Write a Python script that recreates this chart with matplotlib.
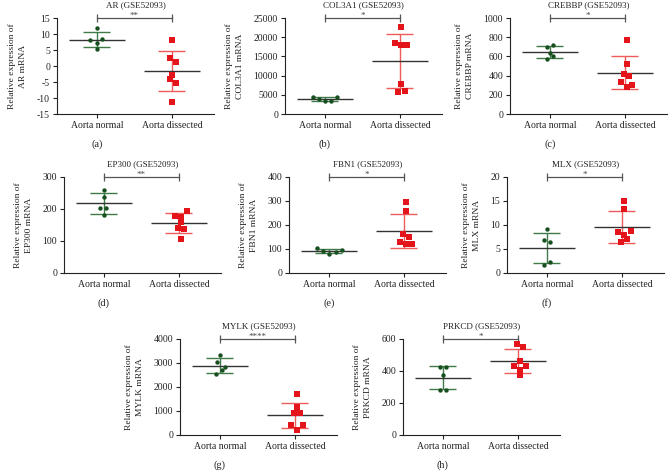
import numpy as np
import matplotlib
matplotlib.use("Agg")
import matplotlib.pyplot as plt
import matplotlib.transforms as mtransforms

plt.rcParams['font.family'] = ['Liberation Serif', 'DejaVu Serif']
plt.rcParams['axes.unicode_minus'] = False

groups = ["Aorta normal", "Aorta dissected"]
genes = ["AR", "COL3A1", "CREBBP", "EP300", "FBN1", "MLX", "MYLK", "PRKCD"]
stars = ["**", "*", "*", "**", "*", "*", "****", "*"]
panel_tags = ["(a)", "(b)", "(c)", "(d)", "(e)", "(f)", "(g)", "(h)"]
ylims = [(-15, 15), (0, 25000), (0, 1000), (0, 300), (0, 400), (0, 20), (0, 4000), (0, 600)]
ysteps = [5, 5000, 200, 100, 100, 5, 1000, 200]

# expression values
normal = [
    [12.0, 8.0, 7.3, 8.5, 5.4],
    [4300, 3950, 3260, 3350, 4300],
    [697, 714, 634, 603, 569],
    [260, 239, 204, 204, 180],
    [103, 91, 81, 89, 95],
    [9.07, 6.85, 6.37, 2.28, 1.73],
    [3322, 3045, 2851, 2699, 2533],
    [423, 426, 372, 282, 282],
]
dissected = [
    [8.2, 2.6, 1.1, -2.9, -4.0, -5.2, -11.3],
    [22700, 18500, 18000, 18000, 7700, 5750, 5900],
    [776, 521, 414, 393, 334, 307, 279],
    [179, 194, 176, 158, 142, 136, 106],
    [294, 257, 162, 151, 131, 120, 120],
    [14.95, 13.4, 8.6, 8.8, 8.0, 7.1, 6.4],
    [1716, 1163, 913, 913, 415, 415, 194],
    [571, 550, 465, 430, 432, 407, 374],
]

# horizontal scatter of the dots (layout only)
jit_n = [
    [0, -0.09, 0, 0.075, 0],
    [-0.155, -0.075, 0, 0.08, 0.165],
    [-0.04, 0.04, 0, 0.04, -0.04],
    [0, 0, -0.045, 0.035, 0],
    [-0.155, -0.075, 0, 0.09, 0.17],
    [0, -0.04, 0.045, 0.045, -0.04],
    [0, -0.04, 0.075, 0.035, -0.05],
    [-0.04, 0.04, 0, -0.04, 0.04],
]
jit_d = [
    [0, -0.03, 0.05, 0, -0.03, 0.05, 0],
    [0.02, -0.06, 0.02, 0.1, 0.02, -0.02, 0.07],
    [0.027, 0.027, -0.013, 0.058, -0.058, 0.1, 0.027],
    [-0.053, 0.11, 0.03, 0.03, -0.013, 0.07, 0.03],
    [0.03, 0.03, -0.01, 0.07, -0.05, 0.03, 0.11],
    [0.03, 0.03, -0.053, 0.115, 0.03, 0.07, -0.013],
    [0.027, 0.027, -0.013, 0.067, -0.058, 0.107, 0.027],
    [-0.013, 0.07, 0.027, -0.053, 0.11, 0.027, 0.027],
]

W, H = 670, 472
fig = plt.figure(figsize=(W / 100, H / 100), dpi=100)

# left spine x, axes top y (pixels)
spots = [(57, 18), (285, 18), (510, 18),
         (64, 177), (289, 177), (507, 177),
         (180, 339), (403, 339)]
aw, ah = 157, 96

pt_col = ["#17501f", "#e3151b"]
sd_col = ["#3f7a48", "#ef5a5a"]
markers = ["o", "s"]
msize = [10, 13]

for i, g in enumerate(genes):
    x0, y0 = spots[i]
    ax = fig.add_axes([x0 / W, 1 - (y0 + ah) / H, aw / W, ah / H])
    vals = [np.array(normal[i]), np.array(dissected[i])]
    jits = [jit_n[i], jit_d[i]]
    for k in range(2):
        v = vals[k]
        m, s = v.mean(), v.std(ddof=1)
        ax.vlines(k, m - s, m + s, color=sd_col[k], lw=1.0, zorder=2)
        ax.hlines([m - s, m + s], k - 0.18, k + 0.18, color=sd_col[k], lw=1.0, zorder=2)
        ax.hlines(m, k - 0.37, k + 0.37, color="#333333", lw=1.0, zorder=3)
        ax.scatter(k + np.array(jits[k]), v, marker=markers[k], s=msize[k],
                   color=pt_col[k], lw=0, zorder=4)

    lo, hi = ylims[i]
    ax.set_ylim(lo, hi)
    ax.set_xlim(-0.53, 1.56)
    ax.set_yticks(np.arange(lo, hi + ysteps[i] / 2, ysteps[i]))
    ax.ticklabel_format(axis="y", style="plain", useOffset=False)
    ax.set_xticks([0, 1])
    ax.set_xticklabels(groups)
    ax.tick_params(labelsize=7, length=3, width=0.8, colors="#222222", pad=2)
    for sp in ["top", "right"]:
        ax.spines[sp].set_visible(False)
    for sp in ["left", "bottom"]:
        ax.spines[sp].set_linewidth(0.8)
        ax.spines[sp].set_color("#222222")

    ax.set_title(g + " (GSE52093)", fontsize=6.5, pad=7.5, color="#222222")
    ax.set_ylabel("Relative expression of\n" + g + " mRNA", fontsize=6.8,
                  labelpad=7, color="#222222", linespacing=1.5)

    # significance bracket
    ax.plot([0, 1], [hi, hi], color="#555555", lw=0.9, clip_on=False)
    d = (hi - lo) * 0.04
    ax.vlines([0, 1], hi - d, hi + d, color="#555555", lw=0.9, clip_on=False)
    ax.text(0.5, hi, stars[i], ha="center", va="baseline",
            fontsize=6.5, color="#444444")

    tr = mtransforms.blended_transform_factory(ax.transData, ax.transAxes)
    ax.text(0, -0.31, panel_tags[i], transform=tr, ha="center", va="center",
            fontsize=7.5, color="#222222")

fig.savefig("out.png", dpi=100)
